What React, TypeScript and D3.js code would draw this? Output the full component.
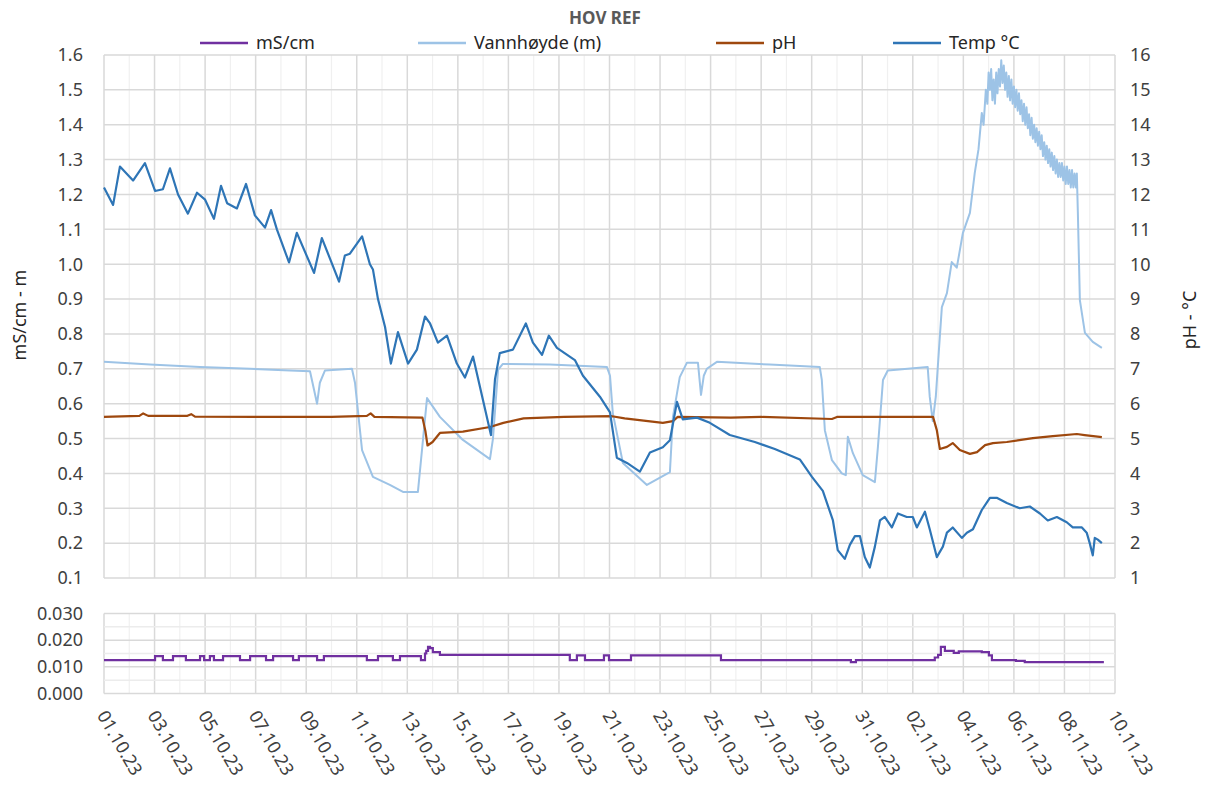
import React from 'react'
import * as d3 from 'd3'

// day offsets from 01.10.23 00:00
const DAY0 = Date.UTC(2023, 9, 1)
const toDate = (d: number) => new Date(DAY0 + d * 86400000)

const title = 'HOV REF'
const legendNames = ['mS/cm', 'Vannhøyde (m)', 'pH', 'Temp °C']
const colors = ['#7030a0', '#9dc3e6', '#9e480e', '#2e75b6']

const leftTicks = [0.1, 0.2, 0.3, 0.4, 0.5, 0.6, 0.7, 0.8, 0.9, 1.0, 1.1, 1.2, 1.3, 1.4, 1.5, 1.6]
const rightTicks = [1, 2, 3, 4, 5, 6, 7, 8, 9, 10, 11, 12, 13, 14, 15, 16]
const condTicks = [0, 0.01, 0.02, 0.03]
const dateTicks = d3.range(0, 41, 2)

// Temp °C
const temp: [number, number][] = [
  [0, 12.2], [0.36, 11.7], [0.63, 12.8], [1.15, 12.4], [1.62, 12.9], [2.02, 12.1], [2.33, 12.15],
  [2.61, 12.75], [2.93, 12.0], [3.32, 11.45], [3.68, 12.05], [4.0, 11.85], [4.35, 11.3], [4.63, 12.25],
  [4.87, 11.75], [5.26, 11.6], [5.62, 12.3], [5.97, 11.4], [6.37, 11.05], [6.61, 11.55], [6.84, 11.0],
  [7.32, 10.05], [7.63, 10.9], [8.31, 9.75], [8.62, 10.75], [9.3, 9.5], [9.53, 10.25], [9.73, 10.3],
  [10.21, 10.8], [10.52, 10.0], [10.64, 9.85], [10.84, 9.0], [11.12, 8.2], [11.35, 7.15], [11.63, 8.05],
  [12.03, 7.15], [12.38, 7.55], [12.7, 8.5], [12.9, 8.3], [13.21, 7.75], [13.57, 7.95], [13.96, 7.15],
  [14.28, 6.75], [14.6, 7.35], [14.79, 6.75], [15.31, 5.1], [15.47, 6.7], [15.66, 7.45], [16.18, 7.55],
  [16.69, 8.3], [16.97, 7.75], [17.33, 7.4], [17.6, 7.95], [17.92, 7.6], [18.63, 7.25], [18.95, 6.8],
  [19.62, 6.2], [20.02, 5.75], [20.29, 4.45], [20.69, 4.3], [21.2, 4.05], [21.6, 4.6], [22.11, 4.75],
  [22.39, 4.95], [22.67, 6.05], [22.9, 5.55], [23.46, 5.6], [23.97, 5.45], [24.76, 5.1], [25.75, 4.9],
  [26.54, 4.7], [27.53, 4.4], [28.01, 3.9], [28.44, 3.5], [28.84, 2.65], [29.03, 1.8], [29.31, 1.55],
  [29.51, 1.95], [29.71, 2.2], [29.91, 2.2], [30.1, 1.6], [30.3, 1.3], [30.5, 1.9], [30.7, 2.65],
  [30.89, 2.75], [31.17, 2.45], [31.41, 2.85], [31.76, 2.75], [32.0, 2.75], [32.16, 2.45], [32.48, 2.9],
  [32.67, 2.4], [32.95, 1.6], [33.19, 1.9], [33.35, 2.3], [33.58, 2.45], [33.94, 2.15], [34.14, 2.3],
  [34.38, 2.4], [34.73, 2.95], [35.05, 3.3], [35.32, 3.3], [35.72, 3.15], [36.23, 3.0], [36.63, 3.05],
  [37.03, 2.85], [37.34, 2.65], [37.7, 2.75], [38.09, 2.6], [38.33, 2.45], [38.69, 2.45], [38.88, 2.3],
  [39.0, 2.0], [39.12, 1.65], [39.2, 2.15], [39.32, 2.1], [39.48, 2.0],
]

// Vannhøyde (m)
const level: [number, number][] = [
  [0, 0.72], [1.82, 0.712], [3.8, 0.705], [5.78, 0.7], [7.36, 0.695], [8.15, 0.693], [8.31, 0.64],
  [8.43, 0.6], [8.54, 0.66], [8.74, 0.695], [9.81, 0.7], [9.93, 0.66], [10.21, 0.467], [10.64, 0.39],
  [11.31, 0.367], [11.83, 0.347], [12.42, 0.347], [12.62, 0.496], [12.78, 0.616], [13.29, 0.562],
  [14.2, 0.496], [15.27, 0.441], [15.39, 0.5], [15.59, 0.697], [15.78, 0.714], [17.64, 0.712],
  [19.9, 0.705], [20.02, 0.68], [20.13, 0.573], [20.53, 0.43], [21.48, 0.367], [22.39, 0.404],
  [22.51, 0.562], [22.78, 0.676], [23.06, 0.717], [23.5, 0.717], [23.62, 0.625], [23.73, 0.68],
  [23.85, 0.7], [24.25, 0.72], [26.34, 0.712], [28.32, 0.705], [28.4, 0.668], [28.52, 0.524],
  [28.8, 0.438], [29.19, 0.4], [29.35, 0.395], [29.43, 0.505], [29.63, 0.458], [30.02, 0.395],
  [30.5, 0.375], [30.62, 0.476], [30.82, 0.668], [31.01, 0.695], [32.59, 0.705], [32.67, 0.62],
  [32.79, 0.55], [32.91, 0.62], [33.03, 0.75], [33.15, 0.877], [33.35, 0.917], [33.54, 1.006],
  [33.74, 0.99], [33.98, 1.089], [34.26, 1.147], [34.45, 1.261], [34.6, 1.33], [34.73, 1.434],
  [34.8, 1.40], [34.89, 1.5], [34.95, 1.46], [35.0, 1.55], [35.05, 1.5], [35.1, 1.56], [35.15, 1.47],
  [35.2, 1.53], [35.25, 1.46], [35.3, 1.55], [35.35, 1.49], [35.4, 1.56], [35.45, 1.51], [35.5, 1.585],
  [35.55, 1.52], [35.6, 1.57], [35.65, 1.5], [35.7, 1.55], [35.75, 1.48], [35.8, 1.54], [35.85, 1.47],
  [35.9, 1.53], [35.95, 1.46], [36.0, 1.51], [36.05, 1.45], [36.1, 1.5], [36.15, 1.44], [36.2, 1.49],
  [36.25, 1.43], [36.3, 1.47], [36.35, 1.41], [36.4, 1.46], [36.45, 1.4], [36.5, 1.45], [36.55, 1.39],
  [36.6, 1.43], [36.65, 1.37], [36.7, 1.42], [36.75, 1.36], [36.8, 1.4], [36.85, 1.35], [36.9, 1.39],
  [36.95, 1.34], [37.0, 1.38], [37.05, 1.33], [37.1, 1.37], [37.15, 1.31], [37.2, 1.35], [37.25, 1.3],
  [37.3, 1.34], [37.35, 1.29], [37.4, 1.33], [37.45, 1.28], [37.5, 1.32], [37.55, 1.27], [37.6, 1.31],
  [37.65, 1.26], [37.7, 1.3], [37.75, 1.25], [37.8, 1.29], [37.85, 1.25], [37.9, 1.29], [37.95, 1.24],
  [38.0, 1.28], [38.05, 1.23], [38.1, 1.28], [38.15, 1.23], [38.2, 1.27], [38.25, 1.22], [38.3, 1.27],
  [38.35, 1.22], [38.4, 1.26], [38.45, 1.22], [38.49, 1.26], [38.53, 1.15], [38.61, 0.897],
  [38.81, 0.803], [39.12, 0.777], [39.48, 0.76],
]

// pH
const ph: [number, number][] = [
  [0, 5.62], [1.4, 5.65], [1.55, 5.72], [1.75, 5.65], [3.3, 5.65], [3.45, 5.7], [3.6, 5.63],
  [6.0, 5.62], [9.0, 5.62], [10.4, 5.65], [10.55, 5.72], [10.7, 5.62], [12.6, 5.6], [12.72, 5.2],
  [12.8, 4.8], [13.0, 4.9], [13.29, 5.16], [14.2, 5.2], [15.27, 5.33], [15.8, 5.45], [16.6, 5.58],
  [18.2, 5.62], [20.1, 5.64], [20.6, 5.58], [22.11, 5.45], [22.51, 5.5], [22.7, 5.62], [24.8, 5.6],
  [26.0, 5.62], [28.8, 5.56], [29.0, 5.62], [32.8, 5.62], [32.95, 5.24], [33.07, 4.7], [33.35, 4.76],
  [33.58, 4.87], [33.86, 4.67], [34.26, 4.56], [34.54, 4.61], [34.86, 4.81], [35.17, 4.87],
  [35.72, 4.9], [36.75, 5.01], [37.54, 5.07], [38.49, 5.13], [38.8, 5.1], [39.48, 5.04],
]

// mS/cm
const cond: [number, number][] = [
  [0, 0.0125], [2.02, 0.014], [2.33, 0.0125], [2.73, 0.014], [3.24, 0.0125], [3.8, 0.014],
  [3.96, 0.0125], [4.19, 0.014], [4.35, 0.0125], [4.71, 0.014], [5.38, 0.0125], [5.78, 0.014],
  [6.41, 0.0125], [6.69, 0.014], [7.48, 0.0125], [7.71, 0.014], [8.43, 0.0125], [8.7, 0.014],
  [10.4, 0.0125], [10.84, 0.014], [11.43, 0.0125], [11.71, 0.014], [12.54, 0.0125], [12.7, 0.015],
  [12.75, 0.016], [12.82, 0.0175], [12.9, 0.017], [13.01, 0.0155], [13.29, 0.0145], [18.43, 0.0125],
  [18.71, 0.0143], [19.03, 0.0125], [19.78, 0.0143], [19.98, 0.0125], [20.85, 0.0143],
  [24.41, 0.0125], [29.55, 0.0118], [29.75, 0.0125], [32.87, 0.0135], [33.0, 0.0145],
  [33.11, 0.0175], [33.27, 0.016], [33.62, 0.0152], [33.82, 0.0158], [34.73, 0.0155],
  [35.01, 0.0143], [35.13, 0.0125], [36.08, 0.0122], [36.43, 0.0118], [39.56, 0.0118],
]

const FONT = 'Noto Sans, sans-serif'

export default function App() {
  const left = 104
  const right = 1115
  const top = 55
  const bottom = 578
  const bTop = 613.5
  const bBottom = 693.5

  const x = d3.scaleUtc().domain([toDate(0), toDate(40)]).range([left, right])
  const yL = d3.scaleLinear().domain([0.1, 1.6]).range([bottom, top])
  const yR = d3.scaleLinear().domain([1, 16]).range([bottom, top])
  const yB = d3.scaleLinear().domain([0, 0.03]).range([bBottom, bTop])

  const lineR = d3.line<[number, number]>().x(d => x(toDate(d[0]))).y(d => yR(d[1]))
  const lineL = d3.line<[number, number]>().x(d => x(toDate(d[0]))).y(d => yL(d[1]))
  const lineB = d3
    .line<[number, number]>()
    .x(d => x(toDate(d[0])))
    .y(d => yB(d[1]))
    .curve(d3.curveStepAfter)

  const fmtDate = d3.utcFormat('%d.%m.%y')
  const days = d3.range(0, 41)

  const legendX = [200, 418, 716, 893]

  return (
    <svg width={1206} height={795} style={{ position: 'absolute', left: 0, top: 0 }} fontFamily={FONT}>
      <rect width={1206} height={795} fill="#fff" />
      <text x={605} y={24} textAnchor="middle" fontSize={17} fontWeight="bold" fill="#595959">
        {title}
      </text>

      {/* legend */}
      {legendNames.map((n, i) => (
        <g key={n}>
          <line x1={legendX[i]} x2={legendX[i] + 48} y1={43} y2={43} stroke={colors[i]} strokeWidth={2.5} />
          <text x={legendX[i] + 56} y={49} fontSize={18} fill="#262626">
            {n}
          </text>
        </g>
      ))}

      {/* main grid */}
      {days.map(d => (
        <line
          key={'v' + d}
          x1={x(toDate(d))}
          x2={x(toDate(d))}
          y1={top}
          y2={bottom}
          stroke={d % 2 === 0 ? '#d9d9d9' : '#f0f0f0'}
          strokeWidth={d % 2 === 0 ? 1.5 : 1.2}
        />
      ))}
      {leftTicks.map(t => (
        <line key={'h' + t} x1={left} x2={right} y1={yL(t)} y2={yL(t)} stroke="#d9d9d9" strokeWidth={1.5} />
      ))}

      {/* bottom grid */}
      {days.map(d => (
        <line
          key={'bv' + d}
          x1={x(toDate(d))}
          x2={x(toDate(d))}
          y1={bTop}
          y2={bBottom}
          stroke={d % 2 === 0 ? '#d9d9d9' : '#f0f0f0'}
          strokeWidth={d % 2 === 0 ? 1.5 : 1.2}
        />
      ))}
      {d3.range(0, 7).map(k => (
        <line
          key={'bh' + k}
          x1={left}
          x2={right}
          y1={yB(k * 0.005)}
          y2={yB(k * 0.005)}
          stroke={k % 2 === 0 ? '#d9d9d9' : '#ececec'}
          strokeWidth={1.5}
        />
      ))}

      {/* tick labels */}
      {leftTicks.map(t => (
        <text key={'lt' + t} x={83} y={yL(t)} dy="0.35em" textAnchor="end" fontSize={18} fill="#404040">
          {d3.format('.1f')(t)}
        </text>
      ))}
      {rightTicks.map(t => (
        <text key={'rt' + t} x={1130} y={yR(t)} dy="0.35em" fontSize={18} fill="#404040">
          {t}
        </text>
      ))}
      {condTicks.map(t => (
        <text key={'ct' + t} x={83} y={yB(t)} dy="0.35em" textAnchor="end" fontSize={18} fill="#404040">
          {d3.format('.3f')(t)}
        </text>
      ))}
      {dateTicks.map(d => (
        <text
          key={'dt' + d}
          transform={`translate(${x(toDate(d)) - 2},${712}) rotate(60)`}
          fontSize={18}
          fill="#404040"
          dy="0.35em"
        >
          {fmtDate(toDate(d))}
        </text>
      ))}

      {/* axis titles */}
      <text transform="translate(26,315) rotate(-90)" textAnchor="middle" fontSize={18} fill="#262626">
        mS/cm - m
      </text>
      <text transform="translate(1196,320) rotate(-90)" textAnchor="middle" fontSize={18} fill="#262626">
        pH - °C
      </text>

      {/* series */}
      <path d={lineL(level) ?? ''} fill="none" stroke={colors[1]} strokeWidth={2} strokeLinejoin="round" />
      <path d={lineR(ph) ?? ''} fill="none" stroke={colors[2]} strokeWidth={2.2} strokeLinejoin="round" />
      <path d={lineR(temp) ?? ''} fill="none" stroke={colors[3]} strokeWidth={2.2} strokeLinejoin="round" />
      <path d={lineB(cond) ?? ''} fill="none" stroke={colors[0]} strokeWidth={2.2} />
    </svg>
  )
}
